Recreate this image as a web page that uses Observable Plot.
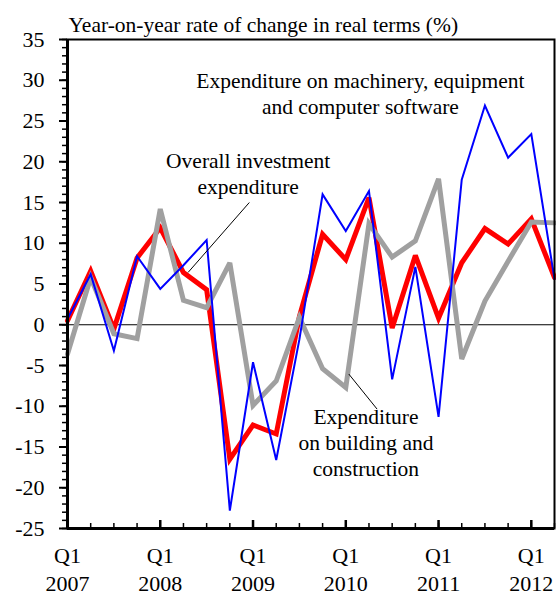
<!DOCTYPE html>
<html><head><meta charset="utf-8">
<script src="https://cdn.jsdelivr.net/npm/d3@7"></script>
<script src="https://cdn.jsdelivr.net/npm/@observablehq/plot@0.6"></script>
<style>
html,body{margin:0;padding:0;background:#fff;}
</style></head><body><div id="chart"></div>
<script>
const quarters = ["2007 Q1","2007 Q2","2007 Q3","2007 Q4","2008 Q1","2008 Q2","2008 Q3","2008 Q4",
  "2009 Q1","2009 Q2","2009 Q3","2009 Q4","2010 Q1","2010 Q2","2010 Q3","2010 Q4",
  "2011 Q1","2011 Q2","2011 Q3","2011 Q4","2012 Q1","2012 Q2"];
const overall   = [0.5, 6.6, -0.5, 8.2, 11.9, 6.4, 4.3, -16.5, -12.3, -13.4, 1.0, 11.1, 8.0, 15.6, -0.4, 8.5, 0.8, 7.6, 11.8, 9.9, 13.0, 5.8];
const machinery = [0.7, 6.2, -3.2, 8.4, 4.4, 7.3, 10.4, -22.8, -4.6, -16.6, -1.8, 16.0, 11.5, 16.4, -6.7, 7.1, -11.3, 17.8, 26.9, 20.5, 23.4, 5.6];
const building  = [-3.6, 5.8, -1.1, -1.7, 14.2, 3.0, 2.1, 7.6, -9.9, -6.9, 0.9, -5.4, -7.7, 12.4, 8.3, 10.3, 17.9, -4.2, 2.9, 7.8, 12.6, 12.5];
const years = ["2007","2008","2009","2010","2011","2012"];
const yMajor = [-25,-20,-15,-10,-5,0,5,10,15,20,25,30,35];
const title = "Year-on-year rate of change in real terms (%)";
const labels = [
  {x: 12.63, y: 25.9, text: "Expenditure on machinery, equipment\nand computer software"},
  {x: 7.79, y: 16.08, text: "Overall investment\nexpenditure"},
  {x: 12.87, y: -18.54, text: "Expenditure\non building and\nconstruction"}
];
const leaders = [
  {x1: 7.84, y1: 15.0, x2: 5.2, y2: 6.42},
  {x1: 12.13, y1: -6.05, x2: 13.35, y2: -10.35}
];

const idx = quarters.map((q, i) => i);
const q1Idx = idx.filter(i => quarters[i].endsWith("Q1"));
const minorY = d3.range(-25, 36, 1);
const font = "'Liberation Serif', 'Times New Roman', serif";

const chart = Plot.plot({
  width: 556,
  height: 596,
  marginLeft: 67,
  marginRight: 2,
  marginTop: 39,
  marginBottom: 68,
  style: {fontFamily: font, background: "#fff", color: "#000"},
  x: {domain: [0, quarters.length - 1]},
  y: {domain: [-25, 35]},
  marks: [
    Plot.ruleY([0], {stroke: "#000", strokeWidth: 1.2}),
    Plot.line(overall, {x: (d, i) => i, y: d => d, stroke: "#ff0000", strokeWidth: 5, strokeLinejoin: "miter", strokeMiterlimit: 3}),
    Plot.line(building, {x: (d, i) => i, y: d => d, stroke: "#a0a0a0", strokeWidth: 5, strokeLinejoin: "miter", strokeMiterlimit: 3}),
    Plot.line(machinery, {x: (d, i) => i, y: d => d, stroke: "#0000ff", strokeWidth: 2, strokeLinejoin: "miter", strokeMiterlimit: 4}),
    Plot.link(leaders, {x1: "x1", y1: "y1", x2: "x2", y2: "y2", stroke: "#000", strokeWidth: 1}),
    Plot.text(labels, {x: "x", y: "y", text: "text", fontSize: 21.5, lineAnchor: "bottom", lineHeight: 1.2, textAnchor: "middle", fill: "#000"}),
    Plot.frame({stroke: "#000", strokeWidth: 2}),
    Plot.ruleX([0], {stroke: "#000", strokeWidth: 3}),
    Plot.ruleY([-25], {stroke: "#000", strokeWidth: 3}),
    Plot.axisY({ticks: minorY, tickSize: 5, text: null, strokeWidth: 1.5, label: null}),
    Plot.axisY({ticks: yMajor, tickSize: 8, tickPadding: 15, strokeWidth: 2, fontSize: 22, tickFormat: d => String(d), label: null}),
    Plot.axisX({ticks: idx, tickSize: -5, text: null, strokeWidth: 1.5, label: null}),
    Plot.axisX({ticks: q1Idx, tickSize: -8, text: null, strokeWidth: 2.5, label: null}),
    Plot.axisX({ticks: q1Idx, tickSize: 0, tickPadding: 15.5, fontSize: 22, lineHeight: 1.24,
      tickFormat: i => "Q1\n" + years[q1Idx.indexOf(i)], label: null}),
    Plot.text([title], {frameAnchor: "top-left", text: d => d, dx: 1, dy: -8, lineAnchor: "bottom", textAnchor: "start", fontSize: 21.5, fill: "#000"})
  ]
});
document.getElementById("chart").appendChild(chart);
</script>
</body></html>
